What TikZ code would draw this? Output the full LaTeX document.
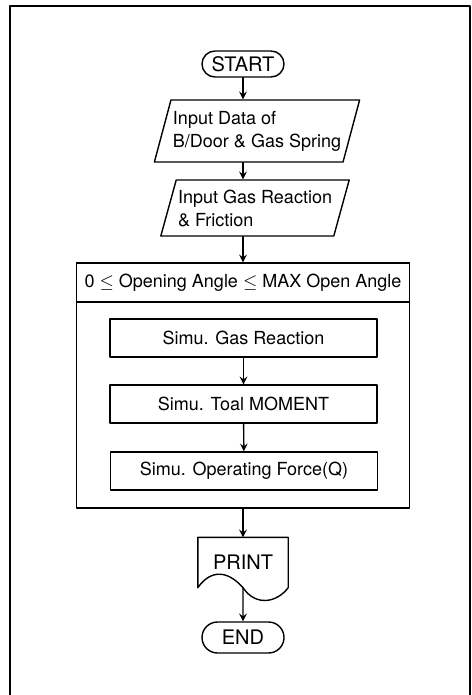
\documentclass[tikz,border=0pt]{standalone}
\usepackage{fontspec}
\setmainfont{TeX Gyre Heros}
\usetikzlibrary{shapes.geometric,shapes.misc}
\tikzset{
	term/.style={draw, rounded rectangle, minimum width=41pt, inner sep=0pt, font=\fontsize{10}{12}\selectfont},
	inbox/.style={draw, trapezium, trapezium left angle=71, trapezium right angle=109, trapezium stretches=true, align=left, inner xsep=1pt, inner ysep=2pt},
	simbox/.style={draw, minimum width=133.5pt, minimum height=19pt, inner sep=0pt},
}
\begin{document}
\begin{tikzpicture}[x=0.5pt, y=-0.5pt, font=\fontsize{9}{11.5}\selectfont, line join=round, line cap=round, >=stealth, line width=0.7pt]
			\useasboundingbox (0,0) rectangle (471,695);
			\draw[line width=1.1pt] (10,700)--(10,6)--(470,6)--(470,700);
			\node[term, minimum height=13pt] (start) at (243,64) {START};
			\node[inbox, minimum width=95pt, minimum height=31pt] (in1) at (257,131) {Input Data of\\B/Door \& Gas Spring};
			\node[inbox, minimum width=95pt, minimum height=28pt] (in2) at (255,208) {Input Gas Reaction\\\& Friction};
			\node[draw, minimum width=166.5pt, minimum height=122.5pt] (loop) at (243,385.5) {};
			\node[draw, minimum width=166.5pt, minimum height=19.5pt, anchor=north] (hdr) at (loop.north) {0 $\leq$ Opening Angle $\leq$ MAX Open Angle};
			\node[simbox] (gas) at (243.5,338) {Simu. Gas Reaction};
			\node[simbox] (mom) at (243.5,404) {Simu. Toal MOMENT};
			\node[simbox] (frc) at (244,471) {Simu. Operating Force(Q)};
			\node[minimum width=44.5pt, minimum height=24.5pt, inner sep=0pt, font=\fontsize{10}{12}\selectfont] (prt) at (243,562.5) {PRINT};
			\draw (prt.south west)--(prt.north west)--(prt.north east)--(prt.south east) .. controls +(-11.5,15) and +(13,19) .. (prt.south) .. controls +(-15,-17) and +(13.5,-19) .. (prt.south west);
			\node[term, minimum height=15.5pt] (stop) at (243,637.5) {END};
			\draw[->] (start.south)--(start.south |- in1.north);
			\draw[->] (start.south |- in1.south)--(start.south |- in2.north);
			\draw[->] (start.south |- in2.south)--(loop.north);
			\draw[->] (gas)--(mom);
			\draw[->] (mom)--(frc);
			\draw[->] (loop.south)--(prt.north);
			\draw[->] (prt.south)--(stop);
		\end{tikzpicture}
\end{document}
